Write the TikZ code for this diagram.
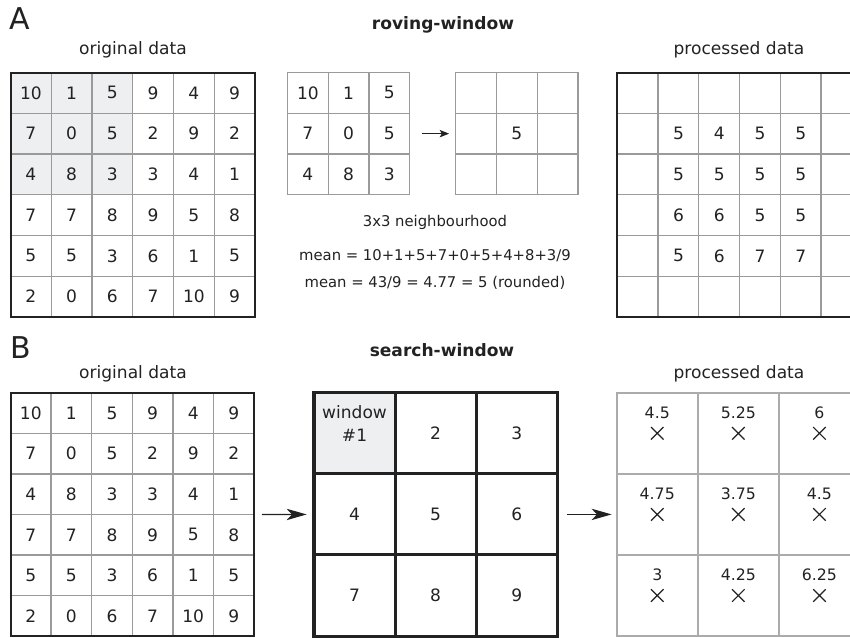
\documentclass[tikz,border=0pt]{standalone}
\usepackage{fontspec}
\setmainfont{DejaVu Sans}
\usetikzlibrary{arrows.meta}
\usetikzlibrary{shapes.misc}

\definecolor{inkdark}{HTML}{222222}
\definecolor{gridgrey}{HTML}{9A9A9A}
\definecolor{cellgrey}{HTML}{EEEFF1}
\definecolor{procgrey}{HTML}{ABABAB}

\tikzset{
  cell/.style={draw=gridgrey, line width=1pt, minimum size=30.5625pt, inner sep=0pt, outer sep=0pt,
    font=\fontsize{12.8}{15}\selectfont, text=inkdark},
  cellb/.style={cell, minimum size=30.45pt},
  bigcell/.style={draw=inkdark, line width=2.3pt, minimum size=60.825pt, inner sep=0pt, outer sep=0pt,
    font=\fontsize{12.8}{17}\selectfont, text=inkdark},
  proccell/.style={bigcell, draw=procgrey, line width=1.6pt},
  frame/.style={draw=inkdark, line width=1.5pt},
  num/.style={font=\fontsize{12.8}{17}\selectfont, text=inkdark, inner sep=0pt},
  caption/.style={anchor=base, font=\fontsize{12.8}{15}\selectfont, text=inkdark, inner sep=0pt},
  heading/.style={anchor=base, font=\bfseries\fontsize{12.8}{15}\selectfont, text=inkdark, inner sep=0pt},
  panel/.style={anchor=base west, font=\fontsize{22.5}{26}\selectfont, text=inkdark, inner sep=0pt},
  note/.style={anchor=base, font=\fontsize{11.1}{13}\selectfont, text=inkdark, inner sep=0pt},
  plabel/.style={font=\fontsize{11.8}{14}\selectfont, text=inkdark, inner sep=0pt},
  xmark/.style={cross out, draw=inkdark, line width=0.9pt, minimum size=8.5pt, inner sep=0pt},
  arr/.style={-{Stealth[length=15pt,width=8.5pt,inset=4pt]}, line width=1pt, draw=inkdark},
  smallarr/.style={-{Stealth[length=7pt,width=5.5pt,inset=1.5pt]}, line width=1pt, draw=inkdark},
}

\begin{document}
\begin{tikzpicture}[x=0.75pt,y=0.75pt,yscale=-1,xscale=1]
\useasboundingbox (0,0) rectangle (850,637);
\clip (0,0) rectangle (850,637);

% Panel A: roving-window
\node[panel] (labA) at (9,29.5) {A};
\node[heading] (titA) at (443,29) {roving-window};
\node[caption] (capAo) at (133,54.5) {original data};
\node[caption] (capAp) at (739,54.5) {processed data};

% original data
\foreach \row [count=\r] in {{10,1,5,9,4,9},{7,0,5,2,9,2},{4,8,3,3,4,1},{7,7,8,9,5,8},{5,5,3,6,1,5},{2,0,6,7,10,9}}
  \foreach \v [count=\c] in \row {
    \ifnum\r<4 \ifnum\c<4 \colorlet{cf}{cellgrey}\else\colorlet{cf}{white}\fi\else\colorlet{cf}{white}\fi
    \node[cell, fill=cf] (ao-\r-\c) at ({10.5+40.75*(\c-0.5)},{72.5+40.75*(\r-0.5)}) {\v};
  }
\draw[frame] (ao-1-1.north west) rectangle (ao-6-6.south east);

% 3x3 neighbourhood
\foreach \row [count=\r] in {{10,1,5},{7,0,5},{4,8,3}}
  \foreach \v [count=\c] in \row
    \node[cell] (as1-\r-\c) at ({287.5+40.75*(\c-0.5)},{72.5+40.75*(\r-0.5)}) {\v};
\foreach \r in {1,2,3}
  \foreach \c in {1,2,3}
    \node[cell] (as2-\r-\c) at ({455.75+40.75*(\c-0.5)},{72.5+40.75*(\r-0.5)}) {};
\node[num] (as2v) at (as2-2-2) {5};
\draw[smallarr, shorten <=9pt, shorten >=5pt] (as1-2-3.east) -- (as2-2-1.west);

\node[note] (nbh) at (435,226) {3x3 neighbourhood};
\node[note] (meanA) at (435,260) {mean = 10+1+5+7+0+5+4+8+3/9};
\node[note] (meanB) at (435,287) {mean = 43/9 = 4.77 = 5 (rounded)};

% processed data
\foreach \r in {1,...,6}
  \foreach \c in {1,...,6}
    \node[cell] (ap-\r-\c) at ({617.3+40.75*(\c-0.5)},{72.5+40.75*(\r-0.5)}) {};
\foreach \row [count=\r from 2] in {{5,4,5,5},{5,5,5,5},{6,6,5,5},{5,6,7,7}}
  \foreach \v [count=\c from 2] in \row
    \node[num] (apv-\r-\c) at (ap-\r-\c) {\v};
\draw[frame] (ap-1-1.north west) rectangle (ap-6-6.south east);

% Panel B: search-window
\node[panel] (labB) at (10.5,358) {B};
\node[heading] (titB) at (442,356.5) {search-window};
\node[caption] (capBo) at (133,378) {original data};
\node[caption] (capBp) at (739,378) {processed data};

% original data
\foreach \row [count=\r] in {{10,1,5,9,4,9},{7,0,5,2,9,2},{4,8,3,3,4,1},{7,7,8,9,5,8},{5,5,3,6,1,5},{2,0,6,7,10,9}}
  \foreach \v [count=\c] in \row
    \node[cellb] (bo-\r-\c) at ({10.5+40.6*(\c-0.5)},{392.75+40.6*(\r-0.5)}) {\v};
\draw[frame] (bo-1-1.north west) rectangle (bo-6-6.south east);

% windows
\foreach \row [count=\r] in {{{},2,3},{4,5,6},{7,8,9}}
  \foreach \v [count=\c] in \row {
    \ifnum\r=1 \ifnum\c=1 \colorlet{cf}{cellgrey}\else\colorlet{cf}{white}\fi\else\colorlet{cf}{white}\fi
    \node[bigcell, fill=cf] (bs-\r-\c) at ({314+81.1*(\c-0.5)},{392.75+81.1*(\r-0.5)}) {\v};
  }
\node[num, align=center] (win1) at ([yshift=-7.2pt]bs-1-1.center) {window\\\#1};

% processed data
\foreach \row [count=\r] in {{4.5,5.25,6},{4.75,3.75,4.5},{3,4.25,6.25}}
  \foreach \v [count=\c] in \row {
    \node[proccell] (bp-\r-\c) at ({616.7+81.1*(\c-0.5)},{392.75+81.1*(\r-0.5)}) {};
    \node[plabel] (bpl-\r-\c) at ([yshift=-15.2pt]bp-\r-\c.center) {\v};
    \node[xmark] (bpx-\r-\c) at (bp-\r-\c.center) {};
  }

\draw[arr, shorten <=5.8pt, shorten >=5.5pt] (bo-3-6.south east) -- (bs-2-1.west);
\draw[arr, shorten <=7pt, shorten >=3.8pt] (bs-2-3.east) -- (bp-2-1.west);

\end{tikzpicture}
\end{document}
